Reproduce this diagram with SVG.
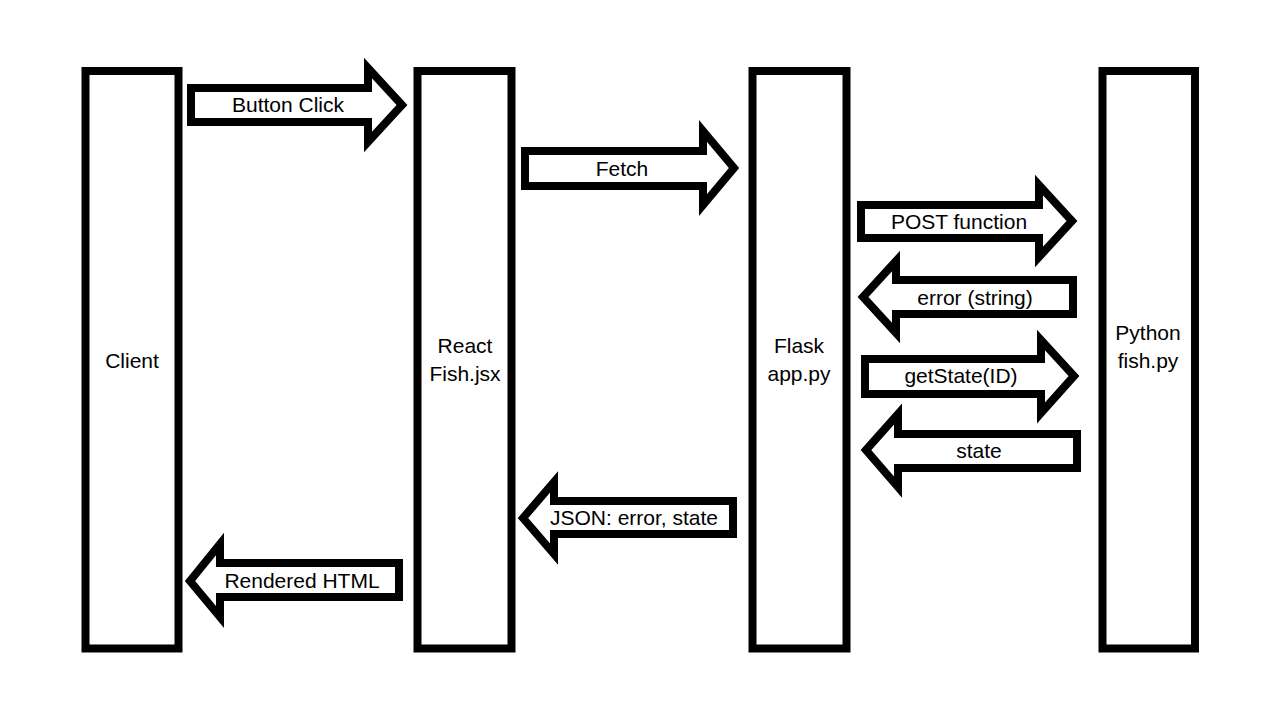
<svg xmlns="http://www.w3.org/2000/svg" width="1280" height="720" viewBox="0 0 1280 720">
<style>
.node{fill:#fff;stroke:#000;stroke-width:8}
.arr{fill:#fff;stroke:#000;stroke-width:8;stroke-linejoin:miter;stroke-miterlimit:10}
text{font-family:"Liberation Sans",Arial,sans-serif;font-size:21px;fill:#000;text-anchor:middle}
</style>
<rect width="1280" height="720" fill="#fff"/>
<g id="client">
<rect class="node" x="85.5" y="71" width="93" height="577.5"/>
<text x="132" y="368">Client</text>
</g>
<g id="react">
<rect class="node" x="417.5" y="71" width="94" height="577.5"/>
<text x="465" y="353">React</text>
<text x="465" y="381">Fish.jsx</text>
</g>
<g id="flask">
<rect class="node" x="752.5" y="71" width="94" height="577.5"/>
<text x="799" y="353">Flask</text>
<text x="799" y="381">app.py</text>
</g>
<g id="python">
<rect class="node" x="1102.5" y="71" width="92.5" height="577.5"/>
<text x="1148" y="340">Python</text>
<text x="1148" y="368">fish.py</text>
</g>
<g id="connectors">
<g id="button-click">
<polygon class="arr" points="191,88 368,88 368,68 402,105 368,142 368,122 191,122"/>
<text x="288" y="112">Button Click</text>
</g>
<g id="fetch">
<polygon class="arr" points="525,151 703,151 703,131 734,168 703,205 703,186 525,186"/>
<text x="622" y="176">Fetch</text>
</g>
<g id="post-function">
<polygon class="arr" points="861,205 1039,205 1039,185 1072,221 1039,257 1039,238 861,238"/>
<text x="959" y="229">POST function</text>
</g>
<g id="error-string">
<polygon class="arr" points="863,297 896,261 896,280 1073,280 1073,314 896,314 896,333"/>
<text x="975" y="305">error (string)</text>
</g>
<g id="getstate">
<polygon class="arr" points="865,359 1041,359 1041,340 1074,376 1041,413 1041,394 865,394"/>
<text x="961" y="383">getState(ID)</text>
</g>
<g id="state">
<polygon class="arr" points="866,450 898,414 898,434 1077,434 1077,468 898,468 898,487"/>
<text x="979" y="458">state</text>
</g>
<g id="json">
<polygon class="arr" points="523,518 554,482 554,501 733,501 733,534 554,534 554,554"/>
<text x="634" y="525">JSON: error, state</text>
</g>
<g id="rendered-html">
<polygon class="arr" points="190,581 220,544 220,563 399,563 399,597 220,597 220,617"/>
<text x="302" y="588">Rendered HTML</text>
</g>
</g>
</svg>
